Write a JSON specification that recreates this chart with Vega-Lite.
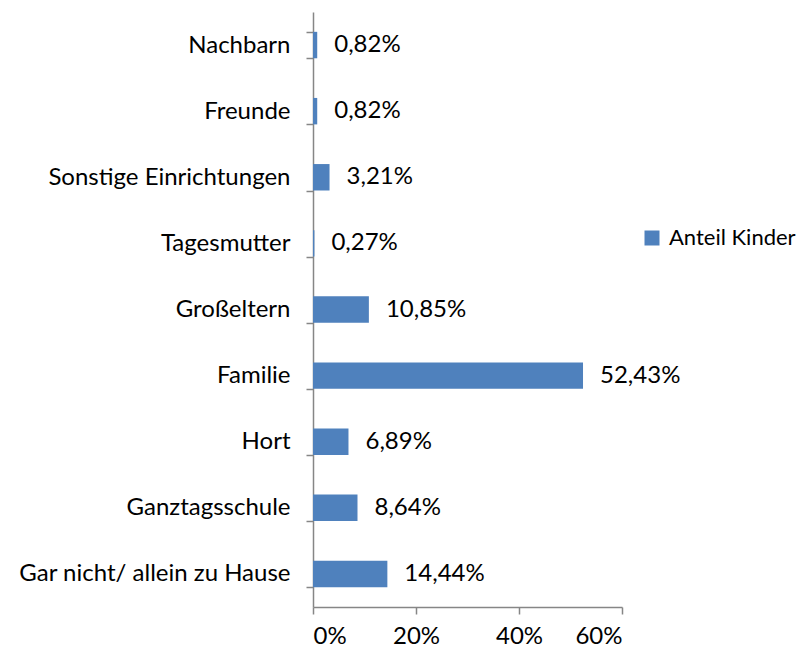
{
  "$schema": "https://vega.github.io/schema/vega-lite/v6.json",
  "width": 309,
  "height": 595,
  "autosize": "none",
  "padding": {"left": 313, "top": 12, "right": 186, "bottom": 48},
  "background": "white",
  "config": {
    "locale": {"number": {"decimal": ",", "thousands": ".", "grouping": [3], "currency": ["", " €"]}},
    "view": {"stroke": null},
    "font": "Lato"
  },
  "data": {
    "values": [
      {"kategorie": "Nachbarn", "anteil": 0.0082, "serie": "Anteil Kinder"},
      {"kategorie": "Freunde", "anteil": 0.0082, "serie": "Anteil Kinder"},
      {"kategorie": "Sonstige Einrichtungen", "anteil": 0.0321, "serie": "Anteil Kinder"},
      {"kategorie": "Tagesmutter", "anteil": 0.0027, "serie": "Anteil Kinder"},
      {"kategorie": "Großeltern", "anteil": 0.1085, "serie": "Anteil Kinder"},
      {"kategorie": "Familie", "anteil": 0.5243, "serie": "Anteil Kinder"},
      {"kategorie": "Hort", "anteil": 0.0689, "serie": "Anteil Kinder"},
      {"kategorie": "Ganztagsschule", "anteil": 0.0864, "serie": "Anteil Kinder"},
      {"kategorie": "Gar nicht/ allein zu Hause", "anteil": 0.1444, "serie": "Anteil Kinder"}
    ]
  },
  "encoding": {
    "y": {
      "field": "kategorie",
      "type": "nominal",
      "sort": null,
      "scale": {"paddingInner": 0.6, "paddingOuter": 0.3},
      "axis": {
        "title": null,
        "tickBand": "extent",
        "domainColor": "#868686",
        "tickColor": "#868686",
        "tickSize": 7,
        "tickWidth": 1.5,
        "domainWidth": 1.5,
        "labelPadding": 16,
        "labelFontSize": 24,
        "labelColor": "#000000",
        "labelFont": "Lato",
        "labelLimit": 400
      }
    },
    "x": {
      "field": "anteil",
      "type": "quantitative",
      "scale": {"domain": [0, 0.6], "nice": false},
      "axis": {
        "title": null,
        "values": [0, 0.2, 0.4, 0.6],
        "format": ".0%",
        "grid": false,
        "domainColor": "#868686",
        "tickColor": "#868686",
        "tickSize": 7,
        "tickWidth": 1.5,
        "domainWidth": 1.5,
        "labelPadding": 10,
        "labelFontSize": 24,
        "labelColor": "#000000",
        "labelFont": "Lato"
      }
    }
  },
  "layer": [
    {
      "mark": {"type": "bar"},
      "encoding": {
        "color": {
          "field": "serie",
          "type": "nominal",
          "scale": {"range": ["#4f81bd"]},
          "legend": {
            "title": null,
            "orient": "none",
            "legendX": 328,
            "legendY": 215,
            "symbolType": "square",
            "symbolSize": 225,
            "symbolStrokeWidth": 0,
            "labelFontSize": 22,
            "labelFont": "Lato",
            "labelColor": "#000000",
            "labelOffset": 6,
            "labelLimit": 300
          }
        }
      }
    },
    {
      "mark": {"type": "text", "align": "left", "baseline": "middle", "dx": 17, "fontSize": 24, "font": "Lato", "color": "#000000"},
      "encoding": {
        "text": {"field": "anteil", "type": "quantitative", "format": ".2%"}
      }
    }
  ]
}
